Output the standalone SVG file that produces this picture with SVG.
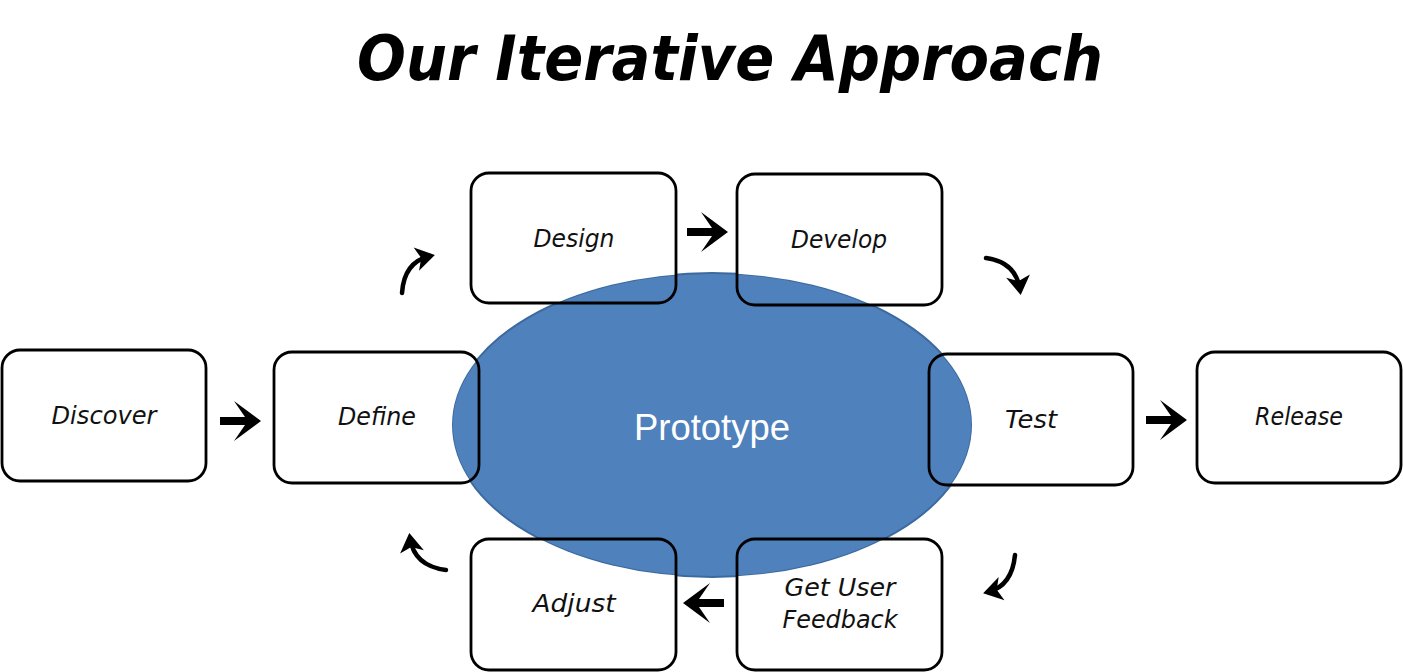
<svg xmlns="http://www.w3.org/2000/svg" width="1403" height="672" viewBox="0 0 1403 672">
<style>
.bf{fill:#fff;stroke:none}
.bs{fill:none;stroke:#000;stroke-width:2.8}
.lbl{font-family:"DejaVu Sans","Liberation Sans",sans-serif;font-size:24px;font-style:italic;fill:#111;text-anchor:middle}
.title{font-family:"DejaVu Sans","Liberation Sans",sans-serif;font-size:62px;font-weight:bold;font-style:italic;fill:#000;text-anchor:middle}
.proto{font-family:"Liberation Sans","Open Sans",sans-serif;font-size:36px;fill:#fff;text-anchor:middle}
.curve{fill:none;stroke:#000;stroke-width:4.5;stroke-linecap:round}
</style>
<defs>
<mask id="outside" maskUnits="userSpaceOnUse" x="0" y="0" width="1403" height="672">
<rect x="0" y="0" width="1403" height="672" fill="#fff"/>
<ellipse cx="712" cy="425" rx="260" ry="152" fill="#000"/>
</mask>
<path id="sarrow" d="M0,-4 L25,-4 L14,-20 L41,0 L14,20 L25,4 L0,4 Z" fill="#000"/>
<marker id="head" markerUnits="userSpaceOnUse" markerWidth="32" markerHeight="32" refX="14" refY="0" viewBox="-4 -16 26 32" orient="auto">
<path d="M0,-12 L19,0 L0,12 L5,0 Z" fill="#000"/>
</marker>
</defs>
<rect width="1403" height="672" fill="#fff"/>
<text class="title" x="730" y="80" textLength="746" lengthAdjust="spacingAndGlyphs">Our Iterative Approach</text>

<g id="prototype">
<ellipse cx="712" cy="425" rx="260" ry="152" fill="#4F81BD" stroke="#3D6A9E" stroke-width="2"/>
<text class="proto" x="712" y="440" textLength="156" lengthAdjust="spacingAndGlyphs">Prototype</text>
</g>

<g id="discover"><rect class="bf" x="2" y="350" width="204" height="131" rx="18" mask="url(#outside)"/><rect class="bs" x="2" y="350" width="204" height="131" rx="18"/><text class="lbl" x="104" y="424" textLength="105" lengthAdjust="spacingAndGlyphs">Discover</text></g>
<g id="define"><rect class="bf" x="274" y="352" width="205" height="131" rx="18" mask="url(#outside)"/><rect class="bs" x="274" y="352" width="205" height="131" rx="18"/><text class="lbl" x="377" y="425" textLength="78" lengthAdjust="spacingAndGlyphs">Define</text></g>
<g id="design"><rect class="bf" x="471" y="173" width="205" height="130" rx="18" mask="url(#outside)"/><rect class="bs" x="471" y="173" width="205" height="130" rx="18"/><text class="lbl" x="574" y="247" textLength="81" lengthAdjust="spacingAndGlyphs">Design</text></g>
<g id="develop"><rect class="bf" x="737" y="174" width="205" height="131" rx="18" mask="url(#outside)"/><rect class="bs" x="737" y="174" width="205" height="131" rx="18"/><text class="lbl" x="839" y="248" textLength="96" lengthAdjust="spacingAndGlyphs">Develop</text></g>
<g id="test"><rect class="bf" x="929" y="354" width="204" height="131" rx="18" mask="url(#outside)"/><rect class="bs" x="929" y="354" width="204" height="131" rx="18"/><text class="lbl" x="1031" y="428" textLength="52" lengthAdjust="spacingAndGlyphs">Test</text></g>
<g id="release"><rect class="bf" x="1197" y="352" width="204" height="131" rx="18" mask="url(#outside)"/><rect class="bs" x="1197" y="352" width="204" height="131" rx="18"/><text class="lbl" x="1299" y="425" textLength="88" lengthAdjust="spacingAndGlyphs">Release</text></g>
<g id="adjust"><rect class="bf" x="471" y="539" width="205" height="131" rx="18" mask="url(#outside)"/><rect class="bs" x="471" y="539" width="205" height="131" rx="18"/><text class="lbl" x="574" y="612" textLength="83" lengthAdjust="spacingAndGlyphs">Adjust</text></g>
<g id="feedback"><rect class="bf" x="737" y="539" width="205" height="131" rx="18" mask="url(#outside)"/><rect class="bs" x="737" y="539" width="205" height="131" rx="18"/><text class="lbl" x="840" y="596" textLength="111" lengthAdjust="spacingAndGlyphs">Get User</text><text class="lbl" x="840" y="628" textLength="115" lengthAdjust="spacingAndGlyphs">Feedback</text></g>

<g id="connectors">
<use href="#sarrow" transform="translate(220,421)"/>
<use href="#sarrow" transform="translate(687,232)"/>
<use href="#sarrow" transform="translate(1146,420)"/>
<use href="#sarrow" transform="translate(724,603) rotate(180)"/>
<path class="curve" d="M402,293 Q404,262 430,256" marker-end="url(#head)"/>
<path class="curve" d="M986,258 Q1016,262 1020,290" marker-end="url(#head)"/>
<path class="curve" d="M1015,555 Q1012,586 988,592" marker-end="url(#head)"/>
<path class="curve" d="M446,570 Q414,566 410,538" marker-end="url(#head)"/>
</g>
</svg>
